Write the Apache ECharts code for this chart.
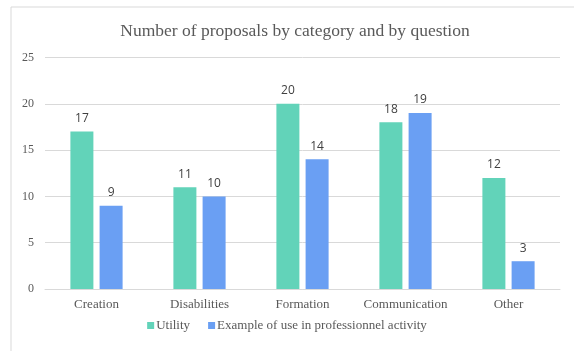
<!DOCTYPE html>
<html><head><meta charset="utf-8">
<script src="https://cdn.jsdelivr.net/npm/echarts@6/dist/echarts.min.js"></script>
<style>html,body{margin:0;padding:0;background:#fff}#c{width:574px;height:351px}</style>
</head><body><div id="c"></div>
<script>
const categories = ['Creation','Disabilities','Formation','Communication','Other'];
const utility = [17, 11, 20, 18, 12];
const example = [9, 10, 14, 19, 3];
const seriesNames = ['Utility','Example of use in professionnel activity'];
const titleText = 'Number of proposals by category and by question';

const chart = echarts.init(document.getElementById('c'));
const serif = '"Liberation Serif", "DejaVu Serif", serif';
const labelStyle = {show:true, position:'top', distance:7, color:'#404040', fontSize:12, fontFamily:'"Open Sans", sans-serif'};
chart.setOption({
  animation:false,
  graphic:[{type:'rect', shape:{x:11, y:7, width:620, height:400}, style:{fill:'none', stroke:'#d9d9d9', lineWidth:1}, silent:true}],
  title:{text:titleText, left:290, top:17, textAlign:'center',
    textStyle:{fontFamily:serif, fontSize:17.5, fontWeight:'normal', color:'#595959'}},
  legend:{bottom:14, left:'center', itemWidth:7, itemHeight:7, itemGap:18, icon:'rect',
    textStyle:{fontFamily:serif, fontSize:13, color:'#595959', padding:[0,0,0,-3]}},
  grid:{left:45, right:14, top:57.5, bottom:62, containLabel:false},
  xAxis:{type:'category', data:categories,
    axisLine:{lineStyle:{color:'#d9d9d9'}}, axisTick:{show:false},
    axisLabel:{interval:0, fontFamily:serif, fontSize:13, color:'#595959', margin:9}},
  yAxis:{type:'value', min:0, max:25, interval:5,
    axisLine:{show:false}, axisTick:{show:false},
    splitLine:{lineStyle:{color:'#d9d9d9'}},
    axisLabel:{fontFamily:serif, fontSize:12, color:'#595959', margin:11}},
  series:[
    {name:seriesNames[0], type:'bar', data:utility, barWidth:23, barGap:'27%', itemStyle:{color:'#62D3B9'}, label:labelStyle},
    {name:seriesNames[1], type:'bar', data:example, barWidth:23, itemStyle:{color:'#6A9FF3'}, label:labelStyle}
  ]
});
</script></body></html>
